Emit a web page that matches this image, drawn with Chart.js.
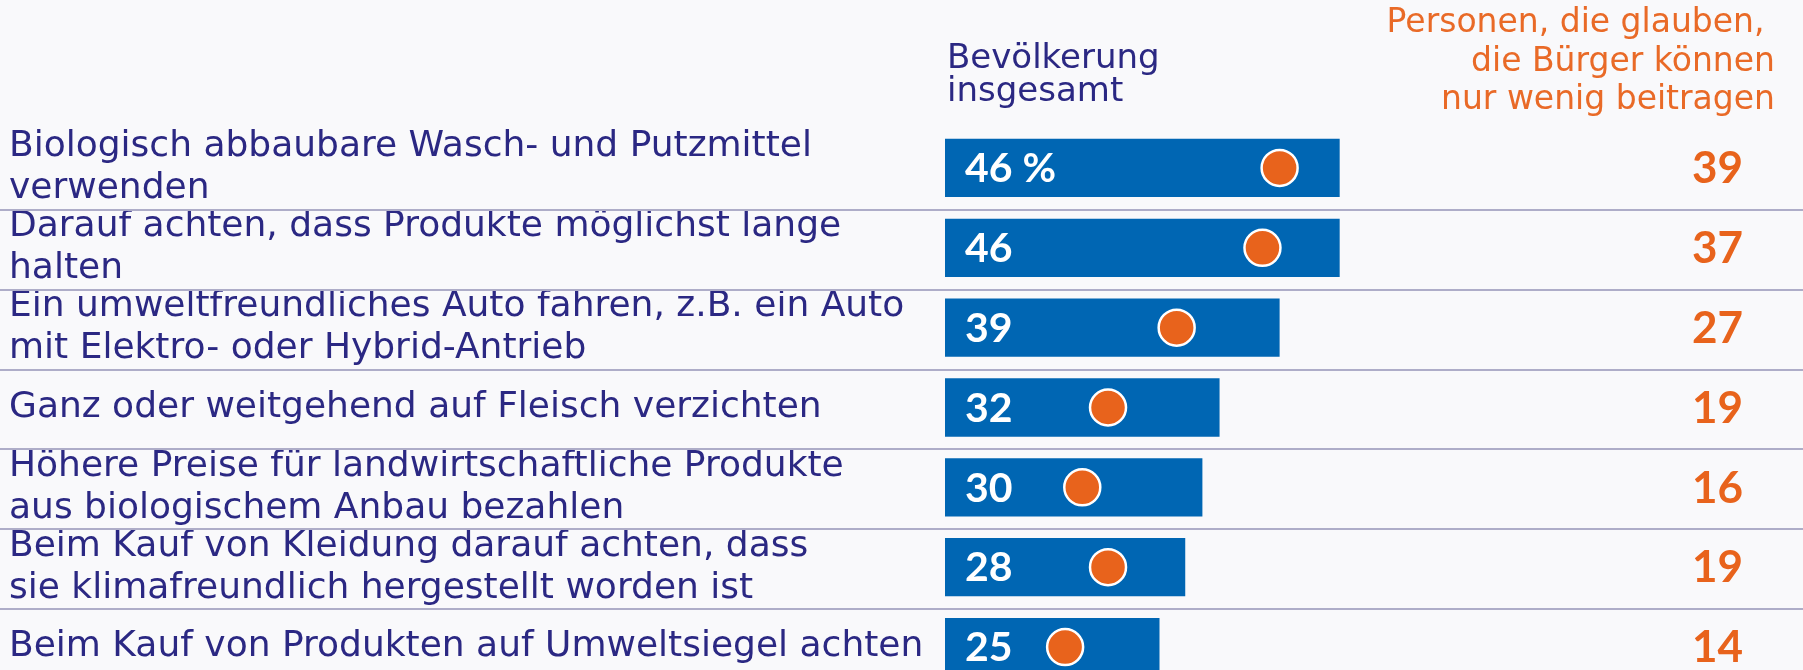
<!DOCTYPE html>
<html>
<head>
<meta charset="utf-8">
<script src="https://cdn.jsdelivr.net/npm/chart.js@4/dist/chart.umd.min.js"></script>
<style>
  html, body { margin: 0; padding: 0; background: #f9f9fb; overflow: hidden; }
  canvas { display: block; }
</style>
</head>
<body>
<canvas id="myChart" width="1803" height="687"></canvas>
<script>
var categories = [
    ['Biologisch abbaubare Wasch- und Putzmittel', 'verwenden'],
    ['Darauf achten, dass Produkte möglichst lange', 'halten'],
    ['Ein umweltfreundliches Auto fahren, z.B. ein Auto', 'mit Elektro- oder Hybrid-Antrieb'],
    'Ganz oder weitgehend auf Fleisch verzichten',
    ['Höhere Preise für landwirtschaftliche Produkte', 'aus biologischem Anbau bezahlen'],
    ['Beim Kauf von Kleidung darauf achten, dass', 'sie klimafreundlich hergestellt worden ist'],
    'Beim Kauf von Produkten auf Umweltsiegel achten'
];
var bevoelkerung = [46, 46, 39, 32, 30, 28, 25];
var wenigBeitragen = [39, 37, 27, 19, 16, 19, 14];
var headerBlue = ['Bevölkerung', 'insgesamt'];
var headerOrange = ['Personen, die glauben, ', 'die Bürger können', 'nur wenig beitragen'];

var NAVY = '#2b2883';
var BLUE = '#0066b3';
var ORANGE = '#e8631c';

// trennlinien, zahlen und kopfzeilen
var extras = {
    id: 'extras',
    beforeDatasetsDraw: function(chart) {
        var ctx = chart.ctx;
        var y = chart.scales.y;
        ctx.save();
        ctx.strokeStyle = '#aeadc8';
        ctx.lineWidth = 2;
        for (var i = 1; i < categories.length; i++) {
            var yy = Math.round((y.getPixelForValue(i - 1) + y.getPixelForValue(i)) / 2) + 2;
            ctx.beginPath();
            ctx.moveTo(0, yy);
            ctx.lineTo(chart.width, yy);
            ctx.stroke();
        }
        ctx.restore();
    },
    afterDatasetsDraw: function(chart) {
        var ctx = chart.ctx;
        var area = chart.chartArea;
        var y = chart.scales.y;
        var bars = chart.getDatasetMeta(1).data;
        ctx.save();
        ctx.font = 'bold 41px Lato';
        ctx.textBaseline = 'middle';

        ctx.fillStyle = '#ffffff';
        ctx.textAlign = 'left';
        for (var i = 0; i < bars.length; i++) {
            var txt = i == 0 ? bevoelkerung[i] + ' %' : String(bevoelkerung[i]);
            ctx.fillText(txt, bars[i].base + 20, bars[i].y + 1);
        }

        ctx.font = 'bold 44px Lato';
        ctx.fillStyle = ORANGE;
        ctx.textAlign = 'right';
        for (var j = 0; j < wenigBeitragen.length; j++) {
            ctx.fillText(String(wenigBeitragen[j]), area.right - 60, y.getPixelForValue(j) + 1);
        }

        ctx.textBaseline = 'alphabetic';
        ctx.font = '34px "DejaVu Sans"';
        ctx.fillStyle = NAVY;
        ctx.textAlign = 'left';
        ctx.fillText(headerBlue[0], 947, 68);
        ctx.fillText(headerBlue[1], 947, 101);

        ctx.font = '33px "DejaVu Sans"';
        ctx.fillStyle = '#e96a27';
        ctx.textAlign = 'right';
        ctx.fillText(headerOrange[0], 1775, 32);
        ctx.fillText(headerOrange[1], 1775, 71);
        ctx.fillText(headerOrange[2], 1775, 109);
        ctx.restore();
    }
};

var ctx = document.getElementById('myChart').getContext('2d');
var myChart = new Chart(ctx, {
    type: 'bar',
    data: {
        labels: categories,
        datasets: [{
            type: 'line',
            indexAxis: 'y',
            data: wenigBeitragen,
            showLine: false,
            pointRadius: 18,
            pointBorderWidth: 2.5,
            pointBorderColor: '#ffffff',
            pointBackgroundColor: ORANGE,
            order: 0
        }, {
            type: 'bar',
            indexAxis: 'y',
            data: bevoelkerung,
            backgroundColor: BLUE,
            barPercentage: 0.73,
            categoryPercentage: 1,
            order: 1
        }]
    },
    options: {
        indexAxis: 'y',
        responsive: false,
        animation: false,
        layout: { autoPadding: false, padding: { top: 128, left: 9, right: 0, bottom: 0 } },
        plugins: {
            legend: { display: false },
            tooltip: { enabled: false }
        },
        scales: {
            x: {
                display: false,
                min: 0,
                max: 100
            },
            y: {
                grid: { display: false },
                border: { display: false },
                ticks: {
                    autoSkip: false,
                    crossAlign: 'far',
                    color: NAVY,
                    font: { family: 'DejaVu Sans', size: 36, lineHeight: 1.17 }
                },
                afterFit: function(scale) {
                    scale.width = 936;
                    scale.paddingTop = 0;
                    scale.paddingBottom = 0;
                }
            }
        }
    },
    plugins: [extras]
});
</script>
</body>
</html>
